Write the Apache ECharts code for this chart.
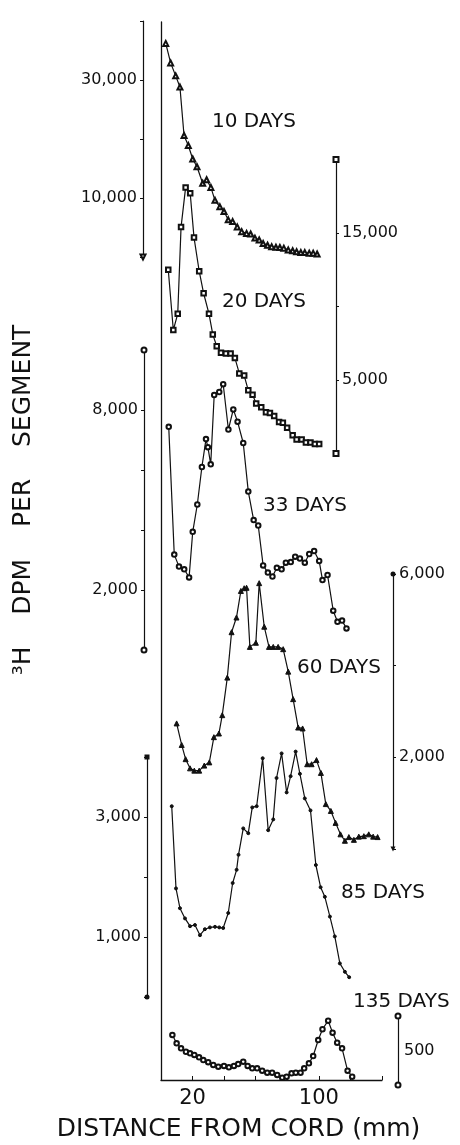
<!DOCTYPE html>
<html>
<head>
<meta charset="utf-8">
<script src="https://cdn.jsdelivr.net/npm/echarts@6/dist/echarts.min.js"></script>
<style>
html, body { margin: 0; padding: 0; background: #ffffff; }
#chart { width: 460px; height: 1145px; }
</style>
</head>
<body>
<div id="chart"></div>
<script>
// ---------- DATA (distance from cord in mm, 3H dpm per segment) ----------
const dist10 = [3.0, 6.1, 9.3, 12.0, 14.6, 17.3, 20.1, 22.8, 26.4, 28.9, 31.6, 34.2, 37.3, 39.9, 42.6, 45.4, 48.3, 51.1, 54.2, 56.8, 59.5, 62.2, 64.7, 67.5, 70.1, 72.8, 75.3, 77.8, 80.6, 83.4, 85.9, 88.6, 91.1, 93.9, 96.4, 98.9];
const dpm10 = [36200, 32900, 30700, 28800, 20600, 18900, 16600, 15300, 12500, 13100, 11800, 9600, 8500, 7700, 6300, 6000, 5100, 4300, 4000, 3900, 3200, 2900, 2300, 2000, 1750, 1650, 1600, 1500, 1200, 1050, 900, 750, 750, 650, 650, 500];

const dist20 = [4.6, 7.8, 10.6, 12.7, 15.6, 18.5, 20.9, 24.2, 27.0, 30.4, 32.8, 35.3, 38.0, 41.1, 44.1, 46.8, 49.6, 52.7, 55.3, 58.0, 60.3, 63.5, 66.5, 69.0, 71.7, 74.8, 77.2, 79.9, 83.4, 85.9, 89.1, 91.8, 94.7, 97.5, 100.2];
const dpm20 = [12500, 8400, 9500, 15400, 18100, 17700, 14700, 12400, 10900, 9500, 8100, 7300, 6850, 6800, 6800, 6500, 5450, 5300, 4300, 4000, 3400, 3150, 2800, 2750, 2550, 2150, 2100, 1750, 1250, 950, 950, 750, 750, 650, 650];

const dist33 = [4.9, 8.4, 11.4, 14.7, 17.8, 20.1, 23.0, 25.9, 28.5, 29.7, 31.5, 33.7, 36.9, 39.4, 42.7, 45.8, 48.5, 52.1, 55.3, 58.7, 61.6, 64.7, 67.7, 70.6, 73.4, 76.4, 79.1, 82.2, 85.0, 88.0, 91.1, 93.9, 97.0, 100.2, 102.3, 105.5, 109.1, 111.8, 114.7, 117.5];
const dpm33 = [7440, 3180, 2780, 2690, 2420, 3940, 4850, 6100, 7030, 6760, 6190, 8500, 8600, 8860, 7350, 8020, 7610, 6900, 5280, 4330, 4150, 2820, 2580, 2450, 2740, 2690, 2910, 2930, 3110, 3050, 2910, 3200, 3300, 2970, 2330, 2500, 1310, 940, 980, 720];

const dist60 = [9.9, 13.1, 15.6, 18.4, 21.1, 24.2, 27.4, 30.6, 33.5, 36.7, 38.8, 42.0, 44.7, 47.8, 50.6, 52.7, 54.2, 56.3, 60.1, 62.2, 65.4, 68.4, 71.1, 74.2, 77.4, 80.6, 83.7, 86.9, 89.7, 92.6, 95.4, 98.5, 101.3, 104.4, 107.6, 110.6, 113.7, 116.5, 119.0, 122.2, 125.3, 128.5, 131.6, 134.4, 137.2];
const dpm60 = [2740, 2270, 1960, 1760, 1710, 1710, 1820, 1890, 2440, 2520, 2920, 3740, 4730, 5050, 5630, 5690, 5700, 4410, 4500, 5800, 4850, 4410, 4410, 4410, 4360, 3870, 3270, 2650, 2630, 1850, 1850, 1940, 1660, 980, 830, 570, 320, 180, 260, 200, 270, 280, 320, 270, 260];

const dist85 = [6.8, 9.5, 12.0, 15.2, 18.4, 21.5, 24.7, 27.8, 31.0, 34.2, 36.9, 39.4, 42.6, 45.4, 47.9, 49.1, 52.1, 55.3, 57.8, 60.6, 64.4, 67.9, 71.1, 73.2, 76.4, 79.6, 82.1, 85.3, 88.0, 91.1, 94.7, 98.1, 101.1, 103.8, 107.0, 110.1, 113.3, 116.5, 119.2];
const dpm85 = [3180, 1810, 1480, 1310, 1180, 1200, 1030, 1130, 1160, 1170, 1160, 1150, 1400, 1900, 2120, 2370, 2810, 2730, 3160, 3180, 3980, 2780, 2960, 3650, 4060, 3410, 3680, 4090, 3720, 3310, 3110, 2200, 1830, 1670, 1340, 1010, 560, 420, 330];

const dist135 = [7.2, 9.9, 12.7, 15.8, 18.4, 21.1, 24.1, 26.8, 29.9, 33.1, 36.3, 39.9, 43.0, 46.2, 48.9, 52.1, 54.9, 57.8, 60.9, 64.1, 67.3, 70.4, 73.6, 76.8, 79.6, 82.7, 85.4, 88.4, 90.7, 93.7, 96.4, 99.6, 102.3, 105.9, 108.7, 111.6, 114.7, 118.2, 121.1];
const dpm135 = [363, 302, 266, 241, 230, 218, 201, 181, 165, 145, 133, 138, 128, 138, 152, 169, 138, 121, 121, 104, 89, 89, 73, 53, 60, 85, 89, 89, 121, 157, 210, 326, 404, 466, 379, 307, 266, 104, 60];

// tick labels
const xTickLabels = [20, 100];
const scale10Labels = [30000, 10000];
const scale20Labels = [15000, 5000];
const scale33Labels = [8000, 2000];
const scale60Labels = [6000, 2000];
const scale85Labels = [3000, 1000];
const scale135Name = '500';
const dayLabels = ['10 DAYS', '20 DAYS', '33 DAYS', '60 DAYS', '85 DAYS', '135 DAYS'];
const yTitle = '³H    DPM    PER    SEGMENT';
const xTitle = 'DISTANCE FROM CORD (mm)';

// ---------- STYLE / LAYOUT ----------
const INK = '#111111';
const FONT = '"DejaVu Sans", "Liberation Sans", sans-serif';
const GL = 161, GW = 221;

function commas(v) { return String(v).replace(/\B(?=(\d{3})+(?!\d))/g, ','); }

const panels = [
  { xs: dist10, ys: dpm10, max: 40000, interval: 10000, labels: scale10Labels, top: 21, height: 236, pos: 'left', offset: 18, ends: ['emptyTriangle', 'none'], symbol: 'emptyTriangle', size: 5, tag: [212, 112] },
  { xs: dist20, ys: dpm20, max: 20000, interval: 5000, labels: scale20Labels, top: 159.5, height: 294, pos: 'right', offset: -46, ends: ['emptyRect', 'emptyRect'], symbol: 'emptyRect', size: 4.5, tag: [222, 292] },
  { xs: dist33, ys: dpm33, max: 10000, interval: 2000, labels: scale33Labels, top: 350, height: 300, pos: 'left', offset: 17, ends: ['emptyCircle', 'emptyCircle'], symbol: 'emptyCircle', size: 4.5, tag: [263, 496], name: yTitle },
  { xs: dist60, ys: dpm60, max: 6000, interval: 2000, labels: scale60Labels, top: 574, height: 275, pos: 'right', offset: 11, ends: ['triangle', 'circle'], symbol: 'triangle', size: 5, tag: [297, 658] },
  { xs: dist85, ys: dpm85, max: 4000, interval: 1000, labels: scale85Labels, top: 757, height: 240, pos: 'left', offset: 14, ends: ['circle', 'rect'], symbol: 'circle', size: 3, tag: [341, 883] },
  { xs: dist135, ys: dpm135, max: 500, interval: 500, labels: [], top: 1016, height: 69, pos: 'right', offset: 16, ends: ['emptyCircle', 'emptyCircle'], symbol: 'emptyCircle', size: 4.5, tag: [353, 992], name: scale135Name }
];

const grids = [{ left: GL, width: GW, top: 22, height: 1058, containLabel: false, outerBoundsMode: 'none' }];
const xAxes = [{
  gridIndex: 0, type: 'value', min: 0, max: 140, interval: 20,
  axisLine: { show: true, onZero: false, lineStyle: { color: INK, width: 1.3 } },
  axisTick: { show: true, inside: true, length: 4, lineStyle: { color: INK, width: 1 } },
  splitLine: { show: false },
  axisLabel: { show: true, margin: 8, color: INK, fontFamily: FONT, fontSize: 21,
    formatter: v => xTickLabels.indexOf(v) >= 0 ? String(v) : '' },
  name: xTitle, nameLocation: 'middle', nameGap: 37,
  nameTextStyle: { color: INK, fontFamily: FONT, fontSize: 25, padding: [0, 66, 0, 0] }
}];
const yAxes = [{
  gridIndex: 0, type: 'value', min: 0, max: 1,
  axisLine: { show: true, onZero: false, lineStyle: { color: INK, width: 1.3 } },
  axisTick: { show: false }, axisLabel: { show: false }, splitLine: { show: false }
}];
const series = [];
const graphics = [];

panels.forEach((p, i) => {
  const gi = i + 1;
  grids.push({ left: GL, width: GW, top: p.top, height: p.height, containLabel: false, outerBoundsMode: 'none' });
  xAxes.push({ gridIndex: gi, type: 'value', min: 0, max: 140, show: false });
  const y = {
    gridIndex: gi, type: 'value', min: 0, max: p.max, interval: p.interval,
    position: p.pos, offset: p.offset,
    axisLine: { show: true, onZero: false, symbol: p.ends, symbolSize: [5, 5], lineStyle: { color: INK, width: 1.2 } },
    axisTick: { show: p.labels.length > 0, inside: false, length: 3, lineStyle: { color: INK, width: 1 } },
    splitLine: { show: false },
    axisLabel: { show: p.labels.length > 0, margin: 6, color: INK, fontFamily: FONT, fontSize: 16,
      formatter: v => p.labels.indexOf(v) >= 0 ? commas(v) : '' }
  };
  if (p.name) {
    y.name = p.name;
    y.nameLocation = 'middle';
    if (p.pos === 'left') {
      y.nameGap = 108;
      y.nameTextStyle = { color: INK, fontFamily: FONT, fontSize: 25 };
    } else {
      y.nameGap = 6;
      y.nameRotate = 0;
      y.nameTextStyle = { color: INK, fontFamily: FONT, fontSize: 16, align: 'left' };
    }
  }
  yAxes.push(y);
  series.push({
    type: 'line', xAxisIndex: gi, yAxisIndex: gi, clip: false,
    data: p.xs.map((x, k) => [x, p.ys[k]]),
    symbol: p.symbol, symbolSize: p.size, showSymbol: true, showAllSymbol: true,
    lineStyle: { color: INK, width: 1.2 },
    itemStyle: { color: INK, borderColor: INK, borderWidth: 1 },
    emphasis: { disabled: true }, animation: false, z: 3
  });
  graphics.push({
    type: 'text', left: p.tag[0], top: p.tag[1],
    style: { text: dayLabels[i], fill: INK, font: '20px ' + FONT }
  });
});

const chart = echarts.init(document.getElementById('chart'), null, { renderer: 'canvas' });
chart.setOption({
  backgroundColor: '#ffffff',
  animation: false,
  grid: grids,
  xAxis: xAxes,
  yAxis: yAxes,
  series: series,
  graphic: graphics
});
</script>
</body>
</html>
